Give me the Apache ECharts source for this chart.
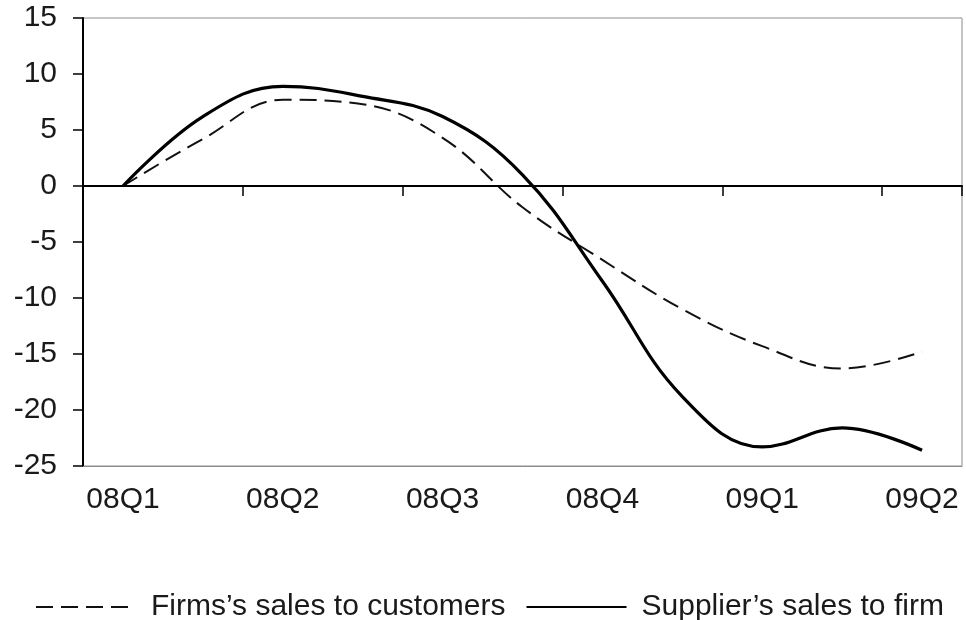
<!DOCTYPE html>
<html>
<head>
<meta charset="utf-8">
<script src="https://cdn.jsdelivr.net/npm/echarts@6/dist/echarts.min.js"></script>
<style>
    html, body { margin: 0; padding: 0; background: #fff; }
    #chart { width: 966px; height: 620px; }
</style>
</head>
<body>
<div id="chart"></div>
<script>
// ======================
// DATA
// ======================

// half-quarter steps, only the quarters carry a label
const periods = ['08Q1', '', '08Q2', '', '08Q3', '', '08Q4', '', '09Q1', '', '09Q2'];

const firmsSales = [0, 4.2, 7.7, 7.3, 4.3, -1.9, -6.6, -11.0, -14.3, -16.3, -14.8];
const supplierSales = [0, 6.2, 8.9, 8.0, 6.2, 1.0, -8.5, -18.8, -23.3, -21.6, -23.6];

const yTicks = { min: -25, max: 15, step: 5 };

const seriesNames = ['Firms\u2019s sales to customers', 'Supplier\u2019s sales to firm'];

// ======================
// STYLE
// ======================

const FONT = "'Liberation Sans', Arial, sans-serif";
const TEXT_COLOR = '#1a1a1a';
const FONT_SIZE = 30;

// ======================
// OPTION BUILDER
// ======================

function getChartOption() {
    return {
        animation: false,
        backgroundColor: '#fff',
        textStyle: { fontFamily: FONT },
        grid: {
            left: 83,
            right: 4,
            top: 18,
            bottom: 154,
            show: true,
            borderColor: '#8c8c8c',
            borderWidth: 1
        },
        legend: {
            left: 30,
            top: 587,
            itemWidth: 100,
            itemHeight: 14,
            itemGap: 20,
            // hide the marker dot, keep only the line sample
            itemStyle: { opacity: 0 },
            textStyle: {
                fontFamily: FONT,
                fontSize: FONT_SIZE,
                color: TEXT_COLOR,
                padding: [0, 0, 0, 10]
            },
            data: seriesNames
        },
        xAxis: [
            {
                // bottom axis: quarter labels only
                type: 'category',
                data: periods,
                boundaryGap: true,
                position: 'bottom',
                axisLine: { onZero: false, lineStyle: { color: '#8c8c8c', width: 1 } },
                axisTick: { show: false },
                axisLabel: {
                    interval: 0,
                    margin: 19,
                    fontFamily: FONT,
                    fontSize: FONT_SIZE,
                    color: TEXT_COLOR
                },
                splitLine: { show: false }
            },
            {
                // zero line with downward ticks between quarters
                type: 'category',
                data: periods,
                boundaryGap: true,
                position: 'top',
                axisLine: {
                    onZero: true,
                    onZeroAxisIndex: 0,
                    lineStyle: { color: '#000', width: 2 }
                },
                axisTick: {
                    show: true,
                    inside: true,
                    length: 10,
                    interval: 1,
                    lineStyle: { color: '#000', width: 1.5 }
                },
                axisLabel: { show: false },
                splitLine: { show: false }
            }
        ],
        yAxis: {
            type: 'value',
            min: yTicks.min,
            max: yTicks.max,
            interval: yTicks.step,
            axisLine: { show: true, onZero: false, lineStyle: { color: '#000', width: 2 } },
            axisTick: { show: true, length: 10, lineStyle: { color: '#000', width: 1.5 } },
            axisLabel: {
                margin: 26,
                fontFamily: FONT,
                fontSize: FONT_SIZE,
                color: TEXT_COLOR
            },
            splitLine: { show: false }
        },
        series: [
            {
                name: seriesNames[0],
                type: 'line',
                data: firmsSales,
                smooth: 0.4,
                symbol: 'none',
                lineStyle: { color: '#111', width: 2, type: [17, 8] },
                itemStyle: { color: '#111' }
            },
            {
                name: seriesNames[1],
                type: 'line',
                data: supplierSales,
                smooth: 0.4,
                symbol: 'none',
                lineStyle: { color: '#000', width: 3.2, type: 'solid' },
                itemStyle: { color: '#000' }
            }
        ]
    };
}

// ======================
// INIT
// ======================

const container = document.getElementById('chart');
const chart = echarts.init(container, null, { renderer: 'canvas' });
chart.setOption(getChartOption());
</script>
</body>
</html>
